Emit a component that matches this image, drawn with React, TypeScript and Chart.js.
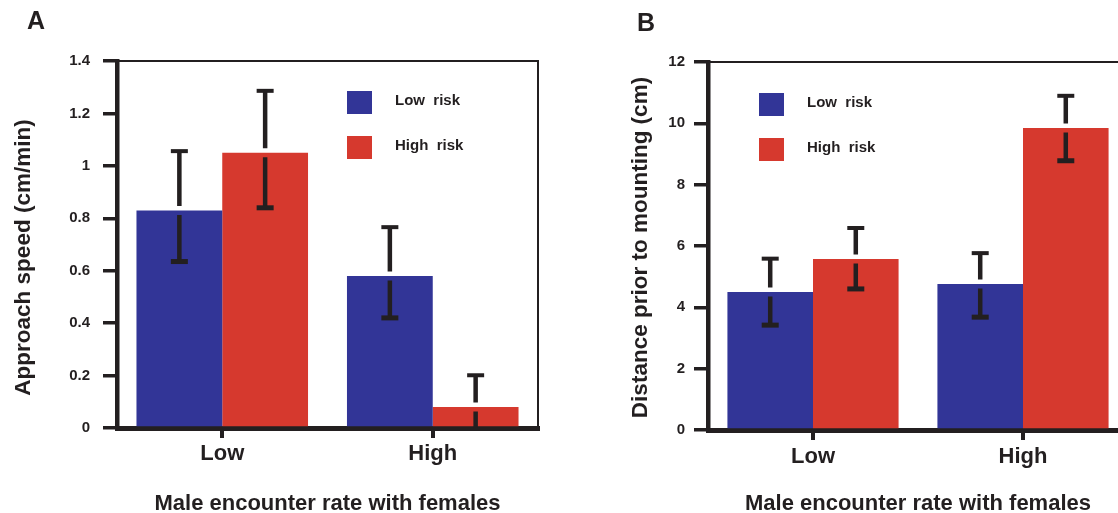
import React, { useEffect, useRef } from 'react';
import { Chart, registerables } from 'chart.js';

Chart.register(...registerables);

const FONT = "'Liberation Sans', Arial, Helvetica, sans-serif";
const INK = '#231f20';
const BLUE = '#323597';
const RED = '#d6392e';

// ---- data ----
const categories = ['Low', 'High'];
const seriesNames = ['Low risk', 'High risk'];
const xTitle = 'Male encounter rate with females';

const speedTitle = 'Approach speed (cm/min)';
const speedLowRisk = [0.83, 0.58];
const speedHighRisk = [1.05, 0.08];
const speedLowRiskUpper = [1.06, 0.77];
const speedLowRiskLower = [0.635, 0.42];
const speedHighRiskUpper = [1.29, 0.205];
const speedHighRiskLower = [0.84, -0.045];
const speedTickLabels = ['0', '0.2', '0.4', '0.6', '0.8', '1', '1.2', '1.4'];

const distTitle = 'Distance prior to mounting (cm)';
const distLowRisk = [4.5, 4.76];
const distHighRisk = [5.58, 9.85];
const distLowRiskUpper = [5.62, 5.8];
const distLowRiskLower = [3.42, 3.68];
const distHighRiskUpper = [6.62, 10.93];
const distHighRiskLower = [4.6, 8.78];
const distTickLabels = ['0', '2', '4', '6', '8', '10', '12'];

// ---- plugins ----
const errorBarPlugin = {
  id: 'errorBars',
  afterDatasetsDraw(chart: any, _args: any, opts: any) {
    const { ctx } = chart;
    const y = chart.scales.y;
    ctx.save();
    ctx.strokeStyle = INK;
    ctx.lineCap = 'butt';
    opts.upper.forEach((ups: number[], d: number) => {
      const meta = chart.getDatasetMeta(d);
      meta.data.forEach((el: any, i: number) => {
        const x = el.x;
        const top = y.getPixelForValue(ups[i]);
        const lowVal = opts.lower[d][i];
        const bot = y.getPixelForValue(Math.max(lowVal, 0));
        const barTop = el.y;
        const gap = 4.5;
        ctx.lineWidth = 4.5;
        ctx.beginPath();
        ctx.moveTo(x, top);
        ctx.lineTo(x, barTop - gap);
        ctx.moveTo(x, barTop + gap);
        ctx.lineTo(x, bot);
        ctx.stroke();
        ctx.lineWidth = 4;
        ctx.beginPath();
        ctx.moveTo(x - 8.5, top + 1);
        ctx.lineTo(x + 8.5, top + 1);
        ctx.stroke();
        if (lowVal > 0) {
          ctx.lineWidth = 5;
          ctx.beginPath();
          ctx.moveTo(x - 8.5, bot);
          ctx.lineTo(x + 8.5, bot);
          ctx.stroke();
        }
      });
    });
    ctx.restore();
  },
};

const framePlugin = {
  id: 'frame',
  beforeDatasetsDraw(chart: any) {
    const { ctx, chartArea: a } = chart;
    ctx.save();
    ctx.strokeStyle = INK;
    ctx.lineWidth = 2;
    ctx.beginPath();
    ctx.moveTo(a.left, a.top);
    ctx.lineTo(a.right, a.top);
    ctx.lineTo(a.right, a.bottom);
    ctx.stroke();
    ctx.restore();
  },
};

const boxLegendPlugin = {
  id: 'boxLegend',
  afterDraw(chart: any, _args: any, opts: any) {
    const { ctx, chartArea: a } = chart;
    ctx.save();
    ctx.font = `bold 15px ${FONT}`;
    ctx.textBaseline = 'middle';
    ctx.textAlign = 'left';
    chart.data.datasets.forEach((ds: any, i: number) => {
      const bx = a.left + opts.dx;
      const by = a.top + opts.dy + i * opts.rowGap;
      ctx.fillStyle = ds.backgroundColor;
      ctx.fillRect(bx, by, 25, 23);
      ctx.fillStyle = INK;
      ctx.fillText(String(ds.label).replace(' ', '  '), bx + opts.textDx, by + 10);
    });
    ctx.restore();
  },
};

const panelTextPlugin = {
  id: 'panelText',
  afterDraw(chart: any, _args: any, opts: any) {
    const { ctx, chartArea: a } = chart;
    ctx.save();
    ctx.fillStyle = INK;
    ctx.font = `bold 25px ${FONT}`;
    ctx.textBaseline = 'alphabetic';
    ctx.textAlign = 'left';
    ctx.fillText(opts.letter, opts.letterX, opts.letterY);
    ctx.translate(opts.yTitleX, (a.top + a.bottom) / 2 + opts.yTitleDy);
    ctx.rotate(-Math.PI / 2);
    ctx.textAlign = 'center';
    ctx.textBaseline = 'middle';
    ctx.font = `bold 22.5px ${FONT}`;
    ctx.fillText(opts.yTitle, 0, 0);
    ctx.restore();
  },
};

function makeConfig(p: any): any {
  return {
    type: 'bar',
    data: {
      labels: categories,
      datasets: [
        {
          label: seriesNames[0],
          data: p.low,
          backgroundColor: BLUE,
          borderWidth: 0,
          categoryPercentage: 0.815,
          barPercentage: 1,
        },
        {
          label: seriesNames[1],
          data: p.high,
          backgroundColor: RED,
          borderWidth: 0,
          categoryPercentage: 0.815,
          barPercentage: 1,
        },
      ],
    },
    options: {
      responsive: false,
      animation: false,
      devicePixelRatio: 1,
      layout: { padding: { top: p.top, right: p.right, left: 0, bottom: 0 } },
      plugins: {
        legend: { display: false },
        tooltip: { enabled: false },
        errorBars: { upper: p.upper, lower: p.lower },
        boxLegend: p.legend,
        panelText: p.panel,
      },
      scales: {
        x: {
          offset: true,
          grid: {
            display: true,
            drawOnChartArea: false,
            drawTicks: true,
            tickLength: 10,
            lineWidth: 4,
            tickWidth: 4,
            color: INK,
            offset: false,
          },
          border: { display: true, color: INK, width: 5 },
          ticks: {
            color: INK,
            font: { family: FONT, size: 22, weight: 'bold' },
            padding: p.xPad,
          },
          title: {
            display: true,
            text: xTitle,
            color: INK,
            font: { family: FONT, size: 22, weight: 'bold', lineHeight: 0.8 },
            padding: 0,
          },
          afterFit: (s: any) => {
            s.height = p.xH;
          },
        },
        y: {
          min: 0,
          max: p.max,
          afterBuildTicks: (s: any) => {
            s.ticks = p.tickLabels.map((t: string) => ({ value: parseFloat(t) }));
          },
          ticks: {
            callback: (_v: any, i: number) => p.tickLabels[i],
            color: INK,
            font: { family: FONT, size: 15, weight: 'bold' },
            padding: p.yPad,
          },
          grid: {
            display: true,
            drawOnChartArea: false,
            drawTicks: true,
            tickLength: 14,
            lineWidth: 3.5,
            tickWidth: 3.5,
            color: INK,
          },
          border: { display: true, color: INK, width: 4.5 },
          afterFit: (s: any) => {
            s.width = p.yW;
          },
        },
      },
    },
    plugins: [framePlugin, errorBarPlugin, boxLegendPlugin, panelTextPlugin],
  };
}

export default function App() {
  const refA = useRef<HTMLCanvasElement>(null);
  const refB = useRef<HTMLCanvasElement>(null);

  useEffect(() => {
    const a = new Chart(
      refA.current as HTMLCanvasElement,
      makeConfig({
        low: speedLowRisk,
        high: speedHighRisk,
        upper: [speedLowRiskUpper, speedHighRiskUpper],
        lower: [speedLowRiskLower, speedHighRiskLower],
        tickLabels: speedTickLabels,
        max: 1.4,
        top: 61,
        right: 21,
        yW: 117,
        xH: 85,
        yPad: 13,
        xPad: 3,
        legend: { dx: 230, dy: 30, rowGap: 45, textDx: 48 },
        panel: { letter: 'A', letterX: 27, letterY: 29, yTitle: speedTitle, yTitleX: 24, yTitleDy: 13 },
      })
    );
    const b = new Chart(
      refB.current as HTMLCanvasElement,
      makeConfig({
        low: distLowRisk,
        high: distHighRisk,
        upper: [distLowRiskUpper, distHighRiskUpper],
        lower: [distLowRiskLower, distHighRiskLower],
        tickLabels: distTickLabels,
        max: 12,
        top: 62,
        right: 31,
        yW: 149,
        xH: 83,
        yPad: 9,
        xPad: 4,
        legend: { dx: 51, dy: 31, rowGap: 45, textDx: 48 },
        panel: { letter: 'B', letterX: 78, letterY: 31, yTitle: distTitle, yTitleX: 82, yTitleDy: 1.5 },
      })
    );
    return () => {
      a.destroy();
      b.destroy();
    };
  }, []);

  return (
    <div
      style={{
        position: 'fixed',
        left: 0,
        top: 0,
        width: 1118,
        height: 513,
        overflow: 'hidden',
        background: '#ffffff',
      }}
    >
      <canvas ref={refA} width={559} height={513} style={{ position: 'absolute', left: 0, top: 0 }} />
      <canvas ref={refB} width={600} height={513} style={{ position: 'absolute', left: 559, top: 0 }} />
    </div>
  );
}
